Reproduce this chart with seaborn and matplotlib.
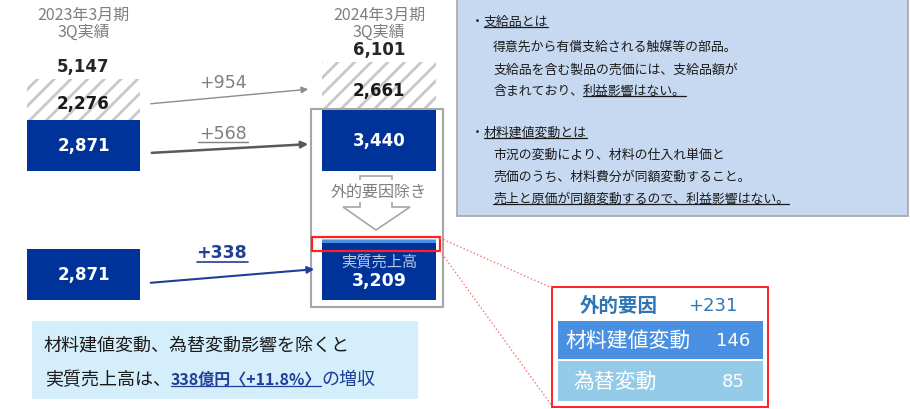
import matplotlib
matplotlib.use('Agg')
import matplotlib.pyplot as plt
import matplotlib.patches as mpatches
import seaborn as sns

# --- data (億円) ---
periods = ['2023年3月期\n3Q実績', '2024年3月期\n3Q実績']
own_sales = [2871, 3440]      # 青い部分
supplied = [2276, 2661]       # 支給品 (斜線)
totals = [5147, 6101]
diff_total = '+954'
diff_own = '+568'
real_sales = [2871, 3209]     # 実質売上高
real_diff = '+338'
ext_labels = ['材料建値変動', '為替変動']
ext_values = [146, 85]
ext_total = '+231'

note1_title = '支給品とは'
note1_lines = ['得意先から有償支給される触媒等の部品。',
               '支給品を含む製品の売価には、支給品額が']
note1_last = ('含まれており、', '利益影響はない。')
note2_title = '材料建値変動とは'
note2_lines = ['市況の変動により、材料の仕入れ単価と',
               '売価のうち、材料費分が同額変動すること。']
note2_last = '売上と原価が同額変動するので、利益影響はない。'
summary1 = '材料建値変動、為替変動影響を除くと'
summary2 = ('実質売上高は、', '338億円〈+11.8%〉', 'の増収')

sns.set_style('white')
plt.rcParams['font.family'] = ['Noto Sans CJK JP', 'DejaVu Sans']
plt.rcParams['hatch.linewidth'] = 2.0
NUM = ['DejaVu Sans']

NAVY = '#003399'
MID = '#4a90e2'
LIGHT = '#93cbe9'
W, H = 910, 410
UNIT = 56            # 億円 per pixel
fig = plt.figure(figsize=(9.1, 4.1), dpi=100)


def px_axes(x0, x1, ytop, ybot):
    return fig.add_axes([x0 / W, 1 - ybot / H, (x1 - x0) / W, (ybot - ytop) / H])


bw = 0.385
xl = (-83.5 / 295.5, (460 - 83.5) / 295.5)

# upper bars
ax_top = px_axes(0, 460, 40, 172)
sns.barplot(x=periods, y=own_sales, color=NAVY, saturation=1, width=bw,
            linewidth=0, ax=ax_top)
ax_top.bar([0, 1], supplied, bottom=own_sales, width=bw, color='white',
           edgecolor='#c8c8c8', hatch='//', linewidth=0)
ax_top.set_xlim(*xl)
ax_top.set_ylim(0, 132 * UNIT)
ax_top.axis('off')
ax_top.patch.set_alpha(0)
for i in range(2):
    ax_top.text(i, own_sales[i] / 2, f'{own_sales[i]:,}', color='white',
                fontsize=12, fontweight='bold', family=NUM, ha='center', va='center')
    ax_top.text(i, own_sales[i] + supplied[i] * 0.42, f'{supplied[i]:,}', color='#1a1a1a',
                fontsize=12, fontweight='bold', family=NUM, ha='center', va='center')
    ax_top.text(i, totals[i] + 4 * UNIT, f'{totals[i]:,}', color='#262626',
                fontsize=12, fontweight='bold', family=NUM, ha='center', va='bottom')
    ax_top.text(i, 132 * UNIT + 16 * UNIT, periods[i], color='#7f7f7f',
                fontsize=11.5, ha='center', va='center', linespacing=0.95)

# lower bars
ax_bot = px_axes(0, 460, 169, 301)
sns.barplot(x=periods, y=real_sales, color=NAVY, saturation=1, width=bw,
            linewidth=0, ax=ax_bot)
ax_bot.bar(1, ext_values[0], bottom=real_sales[1], width=bw, color=MID, linewidth=0)
ax_bot.bar(1, ext_values[1], bottom=real_sales[1] + ext_values[0], width=bw,
           color=LIGHT, linewidth=0)
ax_bot.set_xlim(*xl)
ax_bot.set_ylim(0, 132 * UNIT)
ax_bot.axis('off')
ax_bot.patch.set_alpha(0)
ax_bot.text(0, real_sales[0] / 2, f'{real_sales[0]:,}', color='white',
            fontsize=12, fontweight='bold', family=NUM, ha='center', va='center')
ax_bot.text(1, real_sales[1] * 0.68, '実質売上高', color='#b9c6e4',
            fontsize=11, ha='center', va='center')
ax_bot.text(1, real_sales[1] * 0.35, f'{real_sales[1]:,}', color='white',
            fontsize=12.5, fontweight='bold', family=NUM, ha='center', va='center')

# overlay in pixel coordinates
ax = fig.add_axes([0, 0, 1, 1])
ax.set_xlim(0, W)
ax.set_ylim(H, 0)
ax.axis('off')
ax.patch.set_alpha(0)
renderer = fig.canvas.get_renderer()


def rich(x, y, parts, size):
    # parts: (text, colour, weight, underline, fontsize or None)
    for s, color, weight, under, fsz in parts:
        t = ax.text(x, y, s, fontsize=fsz or size, color=color, fontweight=weight,
                    ha='left', va='center')
        bb = t.get_window_extent(renderer)
        if under:
            yb = H - bb.y0 - 1
            ax.plot([x, bb.x1], [yb, yb], color=color, lw=0.9)
        x = bb.x1
    return x


# arrows between periods
ax.annotate('', xy=(311, 90), xytext=(148, 105),
            arrowprops=dict(arrowstyle='-|>', color='#8c8c8c', lw=1, mutation_scale=10))
ax.annotate('', xy=(311, 145), xytext=(149, 154),
            arrowprops=dict(arrowstyle='-|>', color='#595959', lw=1.8, mutation_scale=10))
ax.annotate('', xy=(317, 270), xytext=(148, 284),
            arrowprops=dict(arrowstyle='-|>', color='#1f3f99', lw=1.5, mutation_scale=10))
ax.text(223, 83, diff_total, color='#808080', fontsize=12.5, family=NUM,
        ha='center', va='center')
ax.text(223, 134, diff_own, color='#808080', fontsize=12.5, family=NUM,
        ha='center', va='center')
ax.plot([198, 248], [143, 143], color='#808080', lw=1)
ax.text(222, 253, real_diff, color='#1f3f99', fontsize=12.5, family=NUM,
        fontweight='bold', ha='center', va='center')
ax.plot([197, 248], [263, 263], color='#1f3f99', lw=1.2)

# frame around right bars + down arrow
ax.add_patch(mpatches.Rectangle((311, 110), 132, 198, fill=False,
                                edgecolor='#a6a6a6', lw=1.5))
ax.add_patch(mpatches.Polygon([(360, 177), (392, 177), (392, 208), (410, 208),
                               (376, 231), (343, 208), (360, 208)], closed=True,
                              facecolor='white', edgecolor='#a6a6a6', lw=1.2))
ax.text(379, 192, '外的要因除き', color='#7f7f7f', fontsize=11.5, ha='center', va='center',
        bbox=dict(facecolor='white', edgecolor='none', pad=1.5))

# red highlight and callout
ax.add_patch(mpatches.Rectangle((312, 238), 128, 14, fill=False, edgecolor='#ff2020', lw=1.6))
ax.plot([440, 552], [239, 289], color='#ff7070', lw=1, ls=':')
ax.plot([440, 552], [252, 407], color='#ff7070', lw=1, ls=':')
ax.add_patch(mpatches.Rectangle((552, 288), 216, 120, facecolor='white',
                                edgecolor='#ff2020', lw=1.4))
ax.add_patch(mpatches.Rectangle((558, 322), 205, 38, facecolor=MID, edgecolor='none'))
ax.add_patch(mpatches.Rectangle((558, 362), 205, 40, facecolor=LIGHT, edgecolor='none'))
ax.text(580, 306, '外的要因', color='#2e75b6', fontsize=14, fontweight='bold',
        ha='left', va='center')
ax.text(738, 306, ext_total, color='#2e75b6', fontsize=13, family=NUM,
        ha='right', va='center')
ax.text(565, 341, ext_labels[0], color='white', fontsize=15, ha='left', va='center')
ax.text(750, 341, f'{ext_values[0]}', color='white', fontsize=13, family=NUM,
        ha='right', va='center')
ax.text(573, 382, ext_labels[1], color='white', fontsize=15, ha='left', va='center')
ax.text(745, 382, f'{ext_values[1]}', color='white', fontsize=13, family=NUM,
        ha='right', va='center')

# explanation box (top right)
ax.add_patch(mpatches.Rectangle((457, -2), 451, 219, facecolor='#c6d9f1',
                                edgecolor='#a6a6a6', lw=1.2))
TXT = '#1a1a1a'
fs = 9.3
rich(471, 22, [('・', TXT, 'normal', False, None),
               (note1_title, TXT, 'normal', True, None)], fs)
for k, line in enumerate(note1_lines):
    ax.text(493, 47 + 23 * k, line, color=TXT, fontsize=fs, ha='left', va='center')
rich(493, 91, [(note1_last[0], TXT, 'normal', False, None),
               (note1_last[1], TXT, 'normal', True, None)], fs)
rich(471, 133, [('・', TXT, 'normal', False, None),
                (note2_title, TXT, 'normal', True, None)], fs)
for k, line in enumerate(note2_lines):
    ax.text(493, 155 + 22 * k, line, color=TXT, fontsize=fs, ha='left', va='center')
rich(493, 199, [(note2_last, TXT, 'normal', True, None)], fs)

# summary box (bottom left)
ax.add_patch(mpatches.Rectangle((32, 322), 386, 78, facecolor='#d5eefb', edgecolor='none'))
ax.text(43, 345, summary1, color=TXT, fontsize=13, ha='left', va='center')
rich(45, 380, [(summary2[0], TXT, 'normal', False, None),
               (summary2[1], '#1f3f99', 'bold', True, 11.5),
               (summary2[2], '#1f3f99', 'normal', False, None)], 13)

fig.savefig('out.png', dpi=100)
